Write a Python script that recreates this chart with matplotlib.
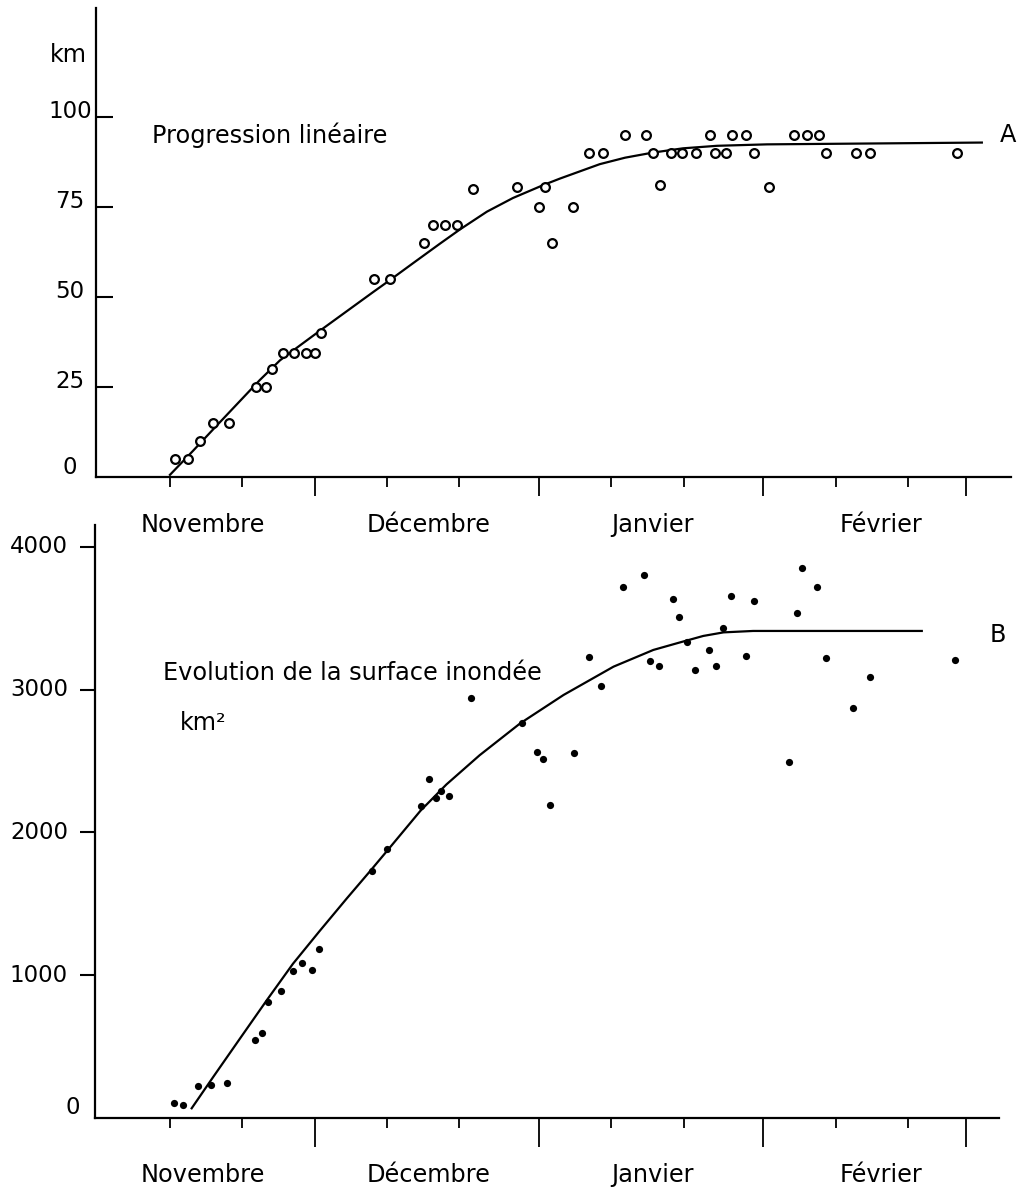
import matplotlib
matplotlib.use("Agg")
import matplotlib.pyplot as plt

# ---------------- data (day 0 = 1 November) ----------------
top_days = [10.7, 12.5, 14.2, 15.9, 18.2, 21.9, 23.3, 24.1, 25.6, 27.1, 28.8, 30.0,
            30.9, 38.2, 40.4, 45.1, 46.3, 48.0, 49.7, 51.9, 58.0, 61.0, 61.8, 62.8,
            65.7, 67.9, 69.8, 72.9, 75.8, 76.8, 77.7, 79.2, 80.7, 82.7, 84.6, 85.3,
            86.8, 87.7, 89.6, 90.7, 92.8, 96.2, 98.0, 99.7, 100.7, 104.8, 106.7, 118.8]
top_km = [5, 5, 10, 15, 15, 25, 25, 30, 34.5, 34.5, 34.5, 34.5,
          40, 55, 55, 65, 70, 70, 70, 80, 80.5, 75, 80.5, 65,
          75, 90, 90, 95, 95, 90, 81, 90, 90, 90, 95, 90,
          90, 95, 95, 90, 80.5, 95, 95, 95, 90, 90, 90, 90]

top_curve_days = [10.0, 13.2, 16.0, 19.2, 22.4, 25.2, 28.0, 30.7, 34.4, 38.1, 40.4,
                  43.6, 47.3, 50.1, 53.8, 57.4, 61.6, 63.9, 69.4, 72.9, 76.7, 80.9,
                  85.6, 92.5, 122.2]
top_curve_km = [0.6, 7.3, 13.3, 20.1, 26.9, 32.4, 36.6, 40.6, 46.0, 51.4, 54.7,
                59.4, 64.8, 68.8, 73.7, 77.5, 81.1, 82.9, 86.9, 88.7, 90.1, 91.3,
                92.0, 92.4, 92.9]

bot_days = [10.6, 11.8, 13.9, 15.7, 17.9, 21.7, 22.7, 23.6, 25.4, 27.0, 28.3, 29.6,
            30.6, 37.9, 40.0, 44.7, 45.8, 46.8, 47.5, 48.5, 51.6, 58.7, 60.7, 61.5,
            62.5, 65.8, 67.9, 69.5, 72.6, 75.5, 76.4, 77.6, 79.5, 80.4, 81.5, 82.5,
            84.5, 85.4, 86.4, 87.5, 89.6, 90.7, 95.5, 96.6, 97.4, 99.4, 100.6, 104.4,
            106.7, 118.5]
bot_km2 = [107, 91, 224, 231, 247, 546, 593, 815, 891, 1029, 1083, 1036,
           1183, 1730, 1885, 2187, 2376, 2239, 2292, 2257, 2941, 2764, 2565, 2512,
           2190, 2558, 3230, 3025, 3721, 3800, 3198, 3163, 3634, 3511, 3335, 3137,
           3277, 3167, 3433, 3655, 3235, 3622, 2495, 3539, 3852, 3721, 3223, 2871,
           3090, 3207]

bot_curve_days = [13.0, 16.0, 19.7, 23.4, 27.0, 30.7, 34.4, 37.6, 40.0, 44.6, 48.2,
                  52.8, 58.4, 64.4, 71.3, 76.8, 80.5, 83.7, 86.5, 90.6, 113.9]
bot_curve_km2 = [68, 289, 558, 826, 1080, 1310, 1535, 1725, 1870, 2150, 2335,
                 2540, 2763, 2962, 3160, 3277, 3330, 3375, 3400, 3410, 3410]

month_labels = ["Novembre", "Décembre", "Janvier", "Février"]
month_label_days = [14.5, 45.7, 76.7, 108.2]
month_start_days = [30, 61, 92, 120]          # 1 Dec, 1 Jan, 1 Feb, 1 Mar
decade_days = [10, 20, 40, 50, 71, 81, 102, 112]

top_yticks = [0, 25, 50, 75, 100]
top_yticklabels = ["0", "25", "50", "75", "100"]
bot_yticks = [0, 1000, 2000, 3000, 4000]
bot_yticklabels = ["0", "1000", "2000", "3000", "4000"]

# ---------------- layout ----------------
W, H = 1023, 1190
plt.rcParams['font.family'] = ['DejaVu Sans']
fig = plt.figure(figsize=(W / 100, H / 100), dpi=100)
FS = 17.3
TFS = 16.5
PT = 0.72  # points per pixel at 100 dpi


def fx(x):
    return x / W


def fy(y):
    return 1 - y / H


day0_px, px_day = 97.6, 7.236

ax1 = fig.add_axes([fx(96), fy(477), (1011 - 96) / W, (477 - 8) / H])
ax2 = fig.add_axes([fx(95), fy(1118), (999 - 95) / W, (1118 - 525) / H])
ax1.set_xlim((96 - day0_px) / px_day, (1011 - day0_px) / px_day)
ax1.set_ylim(0, (477 - 8) / 3.6)
ax2.set_xlim((95 - day0_px) / px_day, (999 - day0_px) / px_day)
ax2.set_ylim(0, (1118 - 525) / 0.14283)

for ax in (ax1, ax2):
    ax.patch.set_visible(False)
    for s in ("top", "right"):
        ax.spines[s].set_visible(False)
    for s in ("left", "bottom"):
        ax.spines[s].set_linewidth(1.6)
    ax.set_xticks(month_start_days)
    ax.set_xticks(decade_days, minor=True)
    ax.tick_params(axis='x', which='both', direction='out', width=1.3,
                   labelbottom=False, color='black')
    ax.tick_params(axis='x', which='minor', length=10 * PT)

ax1.tick_params(axis='x', which='major', length=19 * PT)
ax2.tick_params(axis='x', which='major', length=29 * PT)

ax1.set_yticks(top_yticks[1:])
ax1.tick_params(axis='y', direction='in', length=17 * PT, width=1.5, labelleft=False)
ax2.set_yticks(bot_yticks[1:])
ax2.tick_params(axis='y', direction='out', length=15 * PT, width=1.5, labelleft=False)

# y tick labels
for v, lab in zip(top_yticks, top_yticklabels):
    ax1.annotate(lab, xy=(0, v), xycoords=('axes fraction', 'data'),
                 xytext=(-26, 6 if v else 10), textcoords='offset pixels',
                 ha='center', va='center', fontsize=TFS)
for v, lab in zip(bot_yticks, bot_yticklabels):
    off = (-15, 10) if v == 0 else (-27, 0)
    ax2.annotate(lab, xy=(0, v), xycoords=('axes fraction', 'data'),
                 xytext=off, textcoords='offset pixels',
                 ha='right', va='center', fontsize=TFS)

# month labels
for d, lab in zip(month_label_days, month_labels):
    ax1.annotate(lab, xy=(d, 0), xycoords=('data', 'axes fraction'),
                 xytext=(0, -55), textcoords='offset pixels',
                 ha='center', va='baseline', fontsize=FS, annotation_clip=False)
    ax2.annotate(lab, xy=(d, 0), xycoords=('data', 'axes fraction'),
                 xytext=(0, -64), textcoords='offset pixels',
                 ha='center', va='baseline', fontsize=FS, annotation_clip=False)

# data
ax1.plot(top_curve_days, top_curve_km, '-', color='black', lw=1.6, zorder=2,
         solid_joinstyle='round')
ax1.plot(top_days, top_km, 'o', mfc='white', mec='black', ms=6.3, mew=1.6,
         linestyle='none', zorder=3)

ax2.plot(bot_curve_days, bot_curve_km2, '-', color='black', lw=1.6, zorder=2,
         solid_joinstyle='round')
ax2.plot(bot_days, bot_km2, 'o', color='black', ms=5.2, mew=0,
         linestyle='none', zorder=3)

# annotations
fig.text(fx(50), fy(61.7), "km", fontsize=FS, va='baseline', ha='left')
fig.text(fx(152), fy(143), "Progression linéaire", fontsize=FS, va='baseline', ha='left')
fig.text(fx(1000), fy(142), "A", fontsize=FS, va='baseline', ha='left')
fig.text(fx(163), fy(680), "Evolution de la surface inondée", fontsize=FS,
         va='baseline', ha='left')
fig.text(fx(180), fy(730), "km²", fontsize=FS, va='baseline', ha='left')
fig.text(fx(990), fy(641.7), "B", fontsize=FS, va='baseline', ha='left')

fig.savefig("out.png", dpi=100, facecolor='white')
